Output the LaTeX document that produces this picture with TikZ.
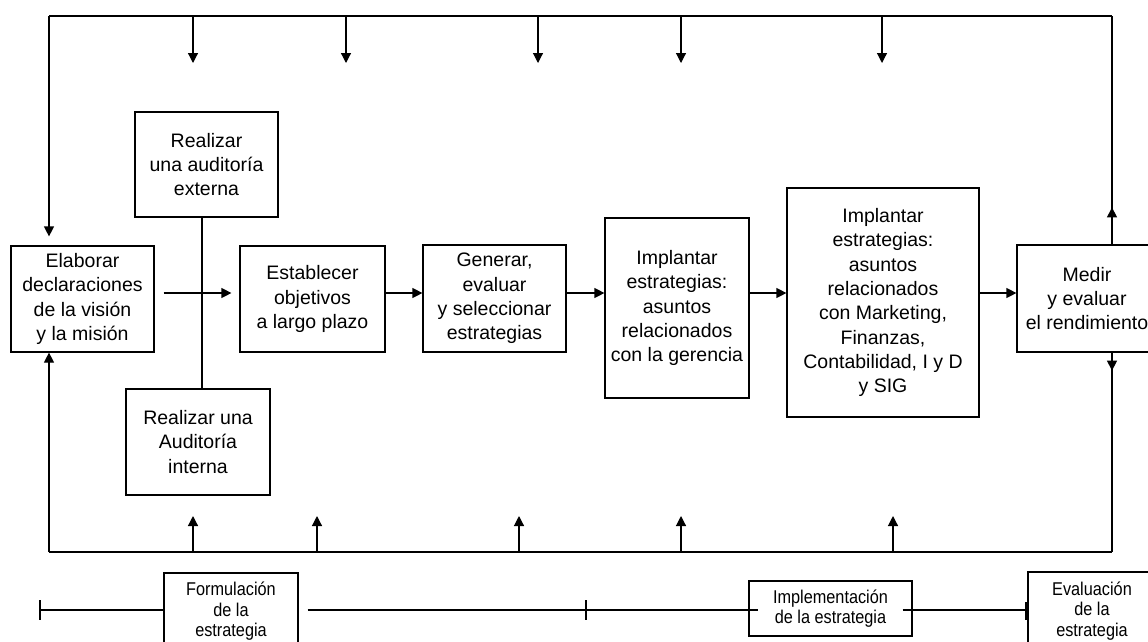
\documentclass[tikz,border=0pt]{standalone}
\usepackage{fontspec}
\setmainfont{Liberation Sans}
\newfontfamily\narrowsans[FakeStretch=0.88]{Liberation Sans}
\usetikzlibrary{arrows.meta}

\begin{document}
\begin{tikzpicture}[x=1pt,y=-1pt,
  stage/.style={draw, line width=1.2pt, align=center, inner sep=0pt,
    font=\fontsize{19.5}{24.3}\selectfont},
  phase/.style={draw, line width=1.2pt, align=center, inner sep=0pt, fill=white,
    font=\narrowsans\fontsize{18.5}{20.5}\selectfont},
  flow/.style={line width=1.2pt, -{Triangle[length=10pt,width=10pt]}},
  rail/.style={line width=1.2pt}]

\useasboundingbox (0,0) rectangle (1148,641);
\clip (0,0) rectangle (1148,641);
\fill[white] (0,0) rectangle (1148,641);

% process stages
\node[stage, minimum width=143, minimum height=106] (vis) at (82.5,299)
  {Elaborar\\declaraciones\\de la visión\\y la misión};
\node[stage, minimum width=143, minimum height=105] (ext) at (206.5,164.5)
  {Realizar\\una auditoría\\externa};
\node[stage, minimum width=144, minimum height=106] (int) at (198,442)
  {Realizar una\\Auditoría\\interna};
\node[stage, minimum width=145, minimum height=106] (obj) at (312.5,299)
  {Establecer\\objetivos\\a largo plazo};
\node[stage, minimum width=143, minimum height=107] (gen) at (494.5,298.5)
  {Generar,\\evaluar\\y seleccionar\\estrategias};
\node[stage, minimum width=144, minimum height=180] (ger) at (677,308)
  {Implantar\\estrategias:\\asuntos\\relacionados\\con la gerencia};
\node[stage, minimum width=192, minimum height=229] (mkt) at (883,302.5)
  {Implantar\\estrategias:\\asuntos\\relacionados\\con Marketing,\\Finanzas,\\Contabilidad, I y D\\y SIG};
\node[stage, minimum width=140, minimum height=107] (med) at (1087,298.5)
  {Medir\\y evaluar\\el rendimiento};

% feedback loop corners
\coordinate (tl) at (49,16);
\coordinate (tr) at (1112,16);
\coordinate (bl) at (49,552);
\coordinate (br) at (1112,552);
\coordinate (flowline) at (0,293);

\draw[rail] (tl) -- (tr);
\draw[rail] (bl) -- (br);
\draw[flow, shorten >=9pt] (tl) -- (tl |- vis.north);
\draw[flow] (bl) -- (bl |- vis.south);

% right side: rendimiento feeds both rails
\draw[rail] (tr) -- (tr |- med.north);
\draw[flow] (tr |- med.north) -- ++(0,-37);
\draw[rail] (tr |- med.south) -- (br);
\draw[flow] (tr |- med.south) -- ++(0,18);

% feedback arrows from the rails
\foreach \x [count=\i] in {193,346,538,681,882}{
  \coordinate (ta\i) at (\x,16);
  \coordinate (tb\i) at (\x,63);
  \draw[flow] (ta\i) -- (tb\i);
}
\foreach \x [count=\i] in {193,317,519,681,893}{
  \coordinate (ba\i) at (\x,552);
  \coordinate (bb\i) at (\x,516);
  \draw[flow] (ba\i) -- (bb\i);
}

% audits
\draw[rail] (ext.south) ++(-4.5,0) coordinate (au) -- (au |- int.north);

% main flow
\draw[flow] ([xshift=9pt]vis.east |- flowline) -- ([xshift=-8pt]obj.west |- flowline);
\draw[flow] (obj.east |- flowline) -- (gen.west |- flowline);
\draw[flow] (gen.east |- flowline) -- (ger.west |- flowline);
\draw[flow] (ger.east |- flowline) -- (mkt.west |- flowline);
\draw[flow] (mkt.east |- flowline) -- (med.west |- flowline);

% phase timeline
\node[phase, minimum width=134, minimum height=77] (form) at (231,611.5)
  {Formulación\\de la\\estrategia};
\node[phase, minimum width=163, minimum height=55] (impl) at (830.5,608.5)
  {Implementación\\de la estrategia};
\node[phase, minimum width=128, minimum height=78] (eval) at (1092,611)
  {Evaluación\\de la\\estrategia};

\coordinate (t1) at (40,610);
\coordinate (t2) at (586,610);
\coordinate (t3) at (1026,610);
\draw[rail] (40,600) -- (40,620);
\draw[rail] (586,600) -- (586,620);
\draw[rail] (1026,602) -- (1026,620);

\draw[rail] (t1) -- (form.west |- t1);
\draw[rail] ([xshift=9pt]form.east |- t1) -- (t2);
\draw[rail] (t2) -- ([xshift=10pt]impl.west |- t2);
\draw[rail] ([xshift=-10pt]impl.east |- t3) -- (t3);
\end{tikzpicture}
\end{document}
